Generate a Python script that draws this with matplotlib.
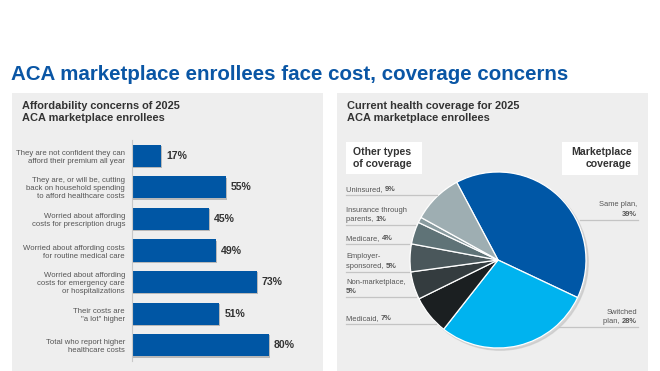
import matplotlib
matplotlib.use('Agg')
import matplotlib.pyplot as plt
import numpy as np

plt.rcParams['font.family'] = ['Liberation Sans', 'DejaVu Sans']

# bar chart data
concerns = ["They are not confident they can\nafford their premium all year",
            "They are, or will be, cutting\nback on household spending\nto afford healthcare costs",
            "Worried about affording\ncosts for prescription drugs",
            "Worried about affording costs\nfor routine medical care",
            "Worried about affording\ncosts for emergency care\nor hospitalizations",
            "Their costs are\n\"a lot\" higher",
            "Total who report higher\nhealthcare costs"]
concern_pct = [17, 55, 45, 49, 73, 51, 80]

# pie data (clockwise from top)
cov_names = ["Same plan", "Switched plan", "Medicaid", "Non-marketplace",
             "Employer-sponsored", "Medicare", "Insurance through parents", "Uninsured"]
cov_pct = [39, 28, 7, 5, 5, 4, 1, 9]
cov_colors = ['#0057a6', '#00b3ef', '#1b1f21', '#343c3f', '#4a575b',
              '#5f7377', '#8a9ca0', '#9eaeb2']
# label text: (lines before last, last line plain part), bold part = pct
left_labels = {"Uninsured": ([], "Uninsured, "),
               "Insurance through parents": (["Insurance through"], "parents, "),
               "Medicare": ([], "Medicare, "),
               "Employer-sponsored": (["Employer-"], "sponsored, "),
               "Non-marketplace": (["Non-marketplace,"], ""),
               "Medicaid": ([], "Medicaid, ")}
right_labels = {"Same plan": (["Same plan,"], ""),
                "Switched plan": (["Switched"], "plan, ")}

W, H = 660, 371
fig = plt.figure(figsize=(W/100, H/100), dpi=100)
fig.patch.set_facecolor('white')

def fx(x):
    return x / W

def fy(y):
    return 1 - y / H

def rect(x0, y0, x1, y1, **kw):
    fig.patches.append(plt.Rectangle((fx(x0), fy(y1)), fx(x1 - x0), (y1 - y0) / H,
                                     transform=fig.transFigure, figure=fig, **kw))

blue = '#0a56a5'
dark = '#333333'
grey_txt = '#555555'

fig.text(fx(11), fy(75), "ACA marketplace enrollees face cost, coverage concerns",
         fontsize=14.8, fontweight='bold', color=blue, va='center', ha='left')

# panels
rect(12, 93, 323, 371, facecolor='#eeeeee', edgecolor='none', zorder=-2)
rect(337, 93, 648, 371, facecolor='#eeeeee', edgecolor='none', zorder=-2)

fig.text(fx(22), fy(112), "Affordability concerns of 2025\nACA marketplace enrollees",
         fontsize=7.9, fontweight='bold', color=dark, va='center', ha='left', linespacing=1.15)
fig.text(fx(347), fy(112), "Current health coverage for 2025\nACA marketplace enrollees",
         fontsize=7.9, fontweight='bold', color=dark, va='center', ha='left', linespacing=1.15)

# ---- bars ----
top, bot = 140, 361
ax = fig.add_axes([fx(132), fy(bot), fx(303 - 132), (bot - top) / H])
ax.set_facecolor('none')
y = np.arange(len(concern_pct))
# drop shadow
ax.barh(y + 0.04, concern_pct, height=0.70, left=0.6, color='#b8b8b8', zorder=1)
ax.barh(y, concern_pct, height=0.70, color='#0056a4', zorder=2)
ax.set_xlim(0, 100)
ax.set_ylim(len(y) - 0.5, -0.5)
for i, v in enumerate(concern_pct):
    ax.text(v + 3.0, i, f"{v}%", va='center', ha='left', fontsize=7.6,
            fontweight='bold', color=dark)
ax.set_xticks([])
ax.set_yticks(y)
ax.set_yticklabels(concerns, fontsize=5.6, color=grey_txt, linespacing=1.2)
ax.tick_params(axis='y', length=0, pad=5)
for s in ['top', 'right', 'bottom']:
    ax.spines[s].set_visible(False)
ax.spines['left'].set_color('#c8c8c8')
ax.spines['left'].set_linewidth(0.8)

# ---- pie ----
cx, cy, r = 498, 260, 88
half = 100
pax = fig.add_axes([fx(cx - half), fy(cy + half), fx(2 * half), 2 * half / H])
pax.add_patch(plt.Circle((0.025, -0.025), 1.0, color='#c4c4c4', alpha=0.6, zorder=0))
pax.pie(cov_pct, colors=cov_colors, startangle=118, counterclock=False, radius=1.0,
        wedgeprops=dict(edgecolor='white', linewidth=0.9))
pax.set_xlim(-half / r, half / r)
pax.set_ylim(-half / r, half / r)
pax.set_aspect('equal')
pax.axis('off')

# "Other types" / "Marketplace" boxes
rect(346, 142, 422, 174, facecolor='white', edgecolor='none', zorder=1)
rect(562, 142, 638, 175, facecolor='white', edgecolor='none', zorder=1)
fig.text(fx(353), fy(158), "Other types\nof coverage", fontsize=7.6, fontweight='bold',
         color=dark, va='center', ha='left', linespacing=1.2, zorder=2)
fig.text(fx(632), fy(158), "Marketplace\ncoverage", fontsize=7.6, fontweight='bold',
         color=dark, va='center', ha='right', linespacing=1.2, zorder=2)

renderer = fig.canvas.get_renderer()
lab_fs = 5.4
lab_col = '#555555'
line_gap = 9.5

# (label name, y of underline)
left_pos = [("Uninsured", 195), ("Insurance through parents", 225), ("Medicare", 244),
            ("Employer-sponsored", 272), ("Non-marketplace", 297), ("Medicaid", 324)]
right_pos = [("Same plan", 220), ("Switched plan", 327)]

def hline(x0, x1, yy):
    fig.add_artist(plt.Line2D([fx(x0), fx(x1)], [fy(yy), fy(yy)], transform=fig.transFigure,
                              color='#c4c4c4', lw=0.9))

for name, ly in left_pos:
    pct = cov_pct[cov_names.index(name)]
    before, last = left_labels[name]
    base = ly - 4
    if last:
        t = fig.text(fx(346), fy(base), last, fontsize=lab_fs, color=lab_col, va='baseline')
        w = t.get_window_extent(renderer).width
        fig.text(fx(346 + w), fy(base), f"{pct}%", fontsize=lab_fs, color=lab_col,
                 va='baseline', fontweight='bold')
    else:
        fig.text(fx(346), fy(base), f"{pct}%", fontsize=lab_fs, color=lab_col,
                 va='baseline', fontweight='bold')
    for k, s in enumerate(reversed(before)):
        fig.text(fx(346), fy(base - line_gap * (k + 1)), s, fontsize=lab_fs,
                 color=lab_col, va='baseline')
    xe = cx - np.sqrt(max(r ** 2 - (ly - cy) ** 2, 0))
    hline(346, xe - 2, ly)

for name, ly in right_pos:
    pct = cov_pct[cov_names.index(name)]
    before, last = right_labels[name]
    base = ly - 4
    t = fig.text(fx(637), fy(base), f"{pct}%", fontsize=lab_fs, color=lab_col,
                 va='baseline', ha='right', fontweight='bold')
    w = t.get_window_extent(renderer).width
    if last:
        fig.text(fx(637 - w), fy(base), last, fontsize=lab_fs, color=lab_col,
                 va='baseline', ha='right')
    for k, s in enumerate(reversed(before)):
        fig.text(fx(637), fy(base - line_gap * (k + 1)), s, fontsize=lab_fs,
                 color=lab_col, va='baseline', ha='right')
    xe = cx + np.sqrt(max(r ** 2 - (ly - cy) ** 2, 0))
    hline(xe + 4, 638, ly)

fig.savefig('out.png', dpi=100, facecolor='white')
